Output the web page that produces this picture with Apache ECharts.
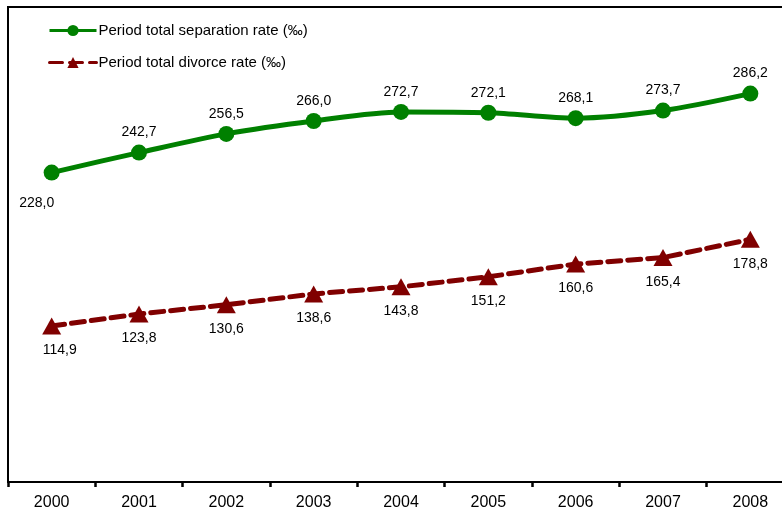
<!DOCTYPE html>
<html>
<head>
<meta charset="utf-8">
<script src="https://cdn.jsdelivr.net/npm/echarts@6/dist/echarts.min.js"></script>
<style>
  html, body { margin: 0; padding: 0; background: #fff; }
  #chart { width: 782px; height: 519px; }
</style>
</head>
<body>
<div id="chart"></div>
<script>
let years = ['2000', '2001', '2002', '2003', '2004', '2005', '2006', '2007', '2008'];
let separation = [228.0, 242.7, 256.5, 266.0, 272.7, 272.1, 268.1, 273.7, 286.2];
let divorce = [114.9, 123.8, 130.6, 138.6, 143.8, 151.2, 160.6, 165.4, 178.8];

let fmt = function (p) { return p.value.toFixed(1).replace('.', ','); };

let chart = echarts.init(document.getElementById('chart'));

// first labels are nudged a bit like in the original
let sepData = separation.map(function (v, i) {
    if (i === 0) return { value: v, label: { position: 'bottom', distance: 10, offset: [-15, 6] } };
    return v;
});
let divData = divorce.map(function (v, i) {
    if (i === 0) return { value: v, label: { offset: [8, 0] } };
    return v;
});

let option = {
    animation: false,
    textStyle: { fontFamily: 'Liberation Sans, Arial, sans-serif' },
    grid: {
        left: 8, top: 7, width: 786, bottom: 37,
        outerBoundsMode: 'none',
        containLabel: false,
        show: true, borderColor: '#000', borderWidth: 2
    },
    legend: {
        orient: 'vertical',
        left: 43, top: 18,
        itemWidth: 47, itemHeight: 14, itemGap: 17,
        lineStyle: { width: 3 },
        textStyle: { fontSize: 15, color: '#000', padding: [0, 0, 0, -3] },
        data: ['Period total separation rate (‰)', 'Period total divorce rate (‰)']
    },
    xAxis: {
        type: 'category',
        data: years,
        boundaryGap: true,
        axisLine: { lineStyle: { color: '#000', width: 2 } },
        axisTick: { show: true, alignWithLabel: false, length: 5, lineStyle: { color: '#000', width: 2.5 } },
        axisLabel: { color: '#000', fontSize: 16, margin: 13 },
        splitLine: { show: false }
    },
    yAxis: {
        type: 'value',
        min: 0, max: 350,
        axisLine: { show: false },
        axisTick: { show: false },
        axisLabel: { show: false },
        splitLine: { show: false }
    },
    series: [
        {
            name: 'Period total separation rate (‰)',
            type: 'line',
            data: sepData,
            smooth: 0.3,
            symbol: 'circle',
            symbolSize: 16,
            lineStyle: { color: '#008000', width: 5 },
            itemStyle: { color: '#008000' },
            label: { show: true, position: 'top', distance: 5, color: '#000', fontSize: 14, formatter: fmt }
        },
        {
            name: 'Period total divorce rate (‰)',
            type: 'line',
            data: divData,
            symbol: 'triangle',
            symbolSize: [19, 17],
            lineStyle: { color: '#800000', width: 5, type: [13, 7], cap: 'round' },
            itemStyle: { color: '#800000' },
            label: { show: true, position: 'bottom', distance: 9, color: '#000', fontSize: 14, formatter: fmt }
        }
    ]
};

chart.setOption(option);
</script>
</body>
</html>
